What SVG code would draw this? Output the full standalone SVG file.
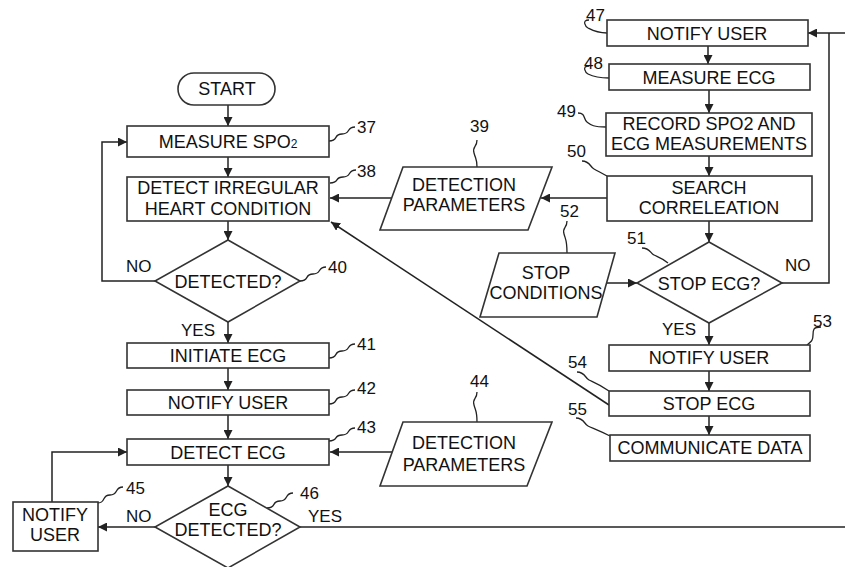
<svg xmlns="http://www.w3.org/2000/svg" width="845" height="567" viewBox="0 0 845 567">
<defs>
<marker id="ah" viewBox="0 0 10 10" refX="10" refY="5" markerWidth="9" markerHeight="9" markerUnits="userSpaceOnUse" orient="auto">
<path d="M0,0 L10,5 L0,10 z" fill="#222"/>
</marker>
<style>
.box{fill:#fff;stroke:#333;stroke-width:1.6}
.t{font-family:"Liberation Sans",Arial,sans-serif;font-size:18px;fill:#111;text-anchor:middle}
.n{font-family:"Liberation Sans",Arial,sans-serif;font-size:17px;fill:#111}
.c{fill:none;stroke:#222;stroke-width:1.5}
.sq{fill:none;stroke:#222;stroke-width:1.3}
</style>
</defs>
<rect width="845" height="567" fill="#fff"/>

<g id="connectors">
<path class="c" d="M228,105 V126" marker-end="url(#ah)"/>
<path class="c" d="M228,157 V177" marker-end="url(#ah)"/>
<path class="c" d="M228,221 V240" marker-end="url(#ah)"/>
<path class="c" d="M155,281 H102 V142 H127" marker-end="url(#ah)"/>
<path class="c" d="M228,322 V343" marker-end="url(#ah)"/>
<path class="c" d="M228,368 V390" marker-end="url(#ah)"/>
<path class="c" d="M228,415 V439" marker-end="url(#ah)"/>
<path class="c" d="M228,465 V486" marker-end="url(#ah)"/>
<path class="c" d="M155,527 H98" marker-end="url(#ah)"/>
<path class="c" d="M52,502 V452 H127" marker-end="url(#ah)"/>
<path class="c" d="M300,527 H845"/>
<path class="c" d="M607,198 H541" marker-end="url(#ah)"/>
<path class="c" d="M392,198 H330" marker-end="url(#ah)"/>
<path class="c" d="M392,452 H330" marker-end="url(#ah)"/>
<path class="c" d="M609,405 L331,222" marker-end="url(#ah)"/>
<path class="c" d="M708,46 V64" marker-end="url(#ah)"/>
<path class="c" d="M709,90 V113" marker-end="url(#ah)"/>
<path class="c" d="M709,156 V176" marker-end="url(#ah)"/>
<path class="c" d="M709,221 V242" marker-end="url(#ah)"/>
<path class="c" d="M607,283 H637" marker-end="url(#ah)"/>
<path class="c" d="M782,283 H829 V33"/>
<path class="c" d="M845,33 H808" marker-end="url(#ah)"/>
<path class="c" d="M709,323 V345" marker-end="url(#ah)"/>
<path class="c" d="M709,371 V391" marker-end="url(#ah)"/>
<path class="c" d="M709,416 V435" marker-end="url(#ah)"/>
</g>

<g id="leaders">
<path class="sq" d="M329,141 c10,0 4,-7 13,-7 s4,-7 13,-7"/>
<path class="sq" d="M330,183 c10,0 4,-6 13,-6 s4,-7 13,-7"/>
<path class="sq" d="M300,281 c10,0 4,-7 13,-7 s4,-7 13,-7"/>
<path class="sq" d="M329,358 c10,0 4,-7 13,-7 s4,-7 13,-7"/>
<path class="sq" d="M329,404 c10,0 4,-7 13,-7 s4,-7 13,-7"/>
<path class="sq" d="M329,441 c10,0 4,-6 13,-6 s4,-7 13,-7"/>
<path class="sq" d="M97,503 c10,0 4,-8 13,-8 s4,-8 13,-8"/>
<path class="sq" d="M267,508 c10,0 4,-7 13,-7 s4,-8 13,-8"/>
<path class="sq" d="M477,140 c0,8 -5,6 -3,13 s3,6 3,14"/>
<path class="sq" d="M567,221 c0,8 -5,6 -3,13 s3,6 3,19"/>
<path class="sq" d="M477,392 c0,8 -5,6 -3,13 s3,6 3,17"/>
<path class="sq" d="M589,20 c-8,0 -3,7 -1,8 s8,5 19,5"/>
<path class="sq" d="M589,66 c-8,0 -3,7 -1,8 s8,4 21,4"/>
<path class="sq" d="M578,113 c8,0 5,6 9,9 s6,5 19,5"/>
<path class="sq" d="M582,161 c8,0 8,6 12,8 s7,4 13,7"/>
<path class="sq" d="M642,248 c8,0 8,5 12,7 s8,3 14,8"/>
<path class="sq" d="M821,327 c-8,0 -8,3 -8,8 s-1,6 -6,10"/>
<path class="sq" d="M577,372 c8,0 8,6 12,8 s10,4 20,11"/>
<path class="sq" d="M576,418 c8,0 8,6 12,8 s10,4 22,10"/>
</g>

<g id="start"><rect class="box" x="178" y="73" width="97" height="32" rx="16"/><text class="t" x="227" y="95">START</text></g>
<g id="n37"><rect class="box" x="127" y="126" width="202" height="31"/><text class="t" x="228" y="148">MEASURE SPO<tspan font-size="12">2</tspan></text></g>
<g id="n38"><rect class="box" x="127" y="177" width="202" height="44"/><text class="t" x="228" y="194">DETECT IRREGULAR</text><text class="t" x="228" y="215">HEART CONDITION</text></g>
<g id="n40"><polygon class="box" points="228,240 300,281 228,322 155,281"/><text class="t" x="228" y="288">DETECTED?</text></g>
<g id="n41"><rect class="box" x="127" y="343" width="202" height="25"/><text class="t" x="228" y="362">INITIATE ECG</text></g>
<g id="n42"><rect class="box" x="127" y="390" width="202" height="25"/><text class="t" x="228" y="409">NOTIFY USER</text></g>
<g id="n43"><rect class="box" x="127" y="439" width="202" height="26"/><text class="t" x="228" y="459">DETECT ECG</text></g>
<g id="n46"><polygon class="box" points="228,486 300,527 228,568 155,527"/><text class="t" x="228" y="516">ECG</text><text class="t" x="228" y="536">DETECTED?</text></g>
<g id="n45"><rect class="box" x="13" y="502" width="85" height="49"/><text class="t" x="55" y="521">NOTIFY</text><text class="t" x="55" y="541">USER</text></g>
<g id="n39"><polygon class="box" points="403,167 552,167 528,230 380,230"/><text class="t" x="464" y="191">DETECTION</text><text class="t" x="464" y="211">PARAMETERS</text></g>
<g id="n44"><polygon class="box" points="403,422 552,422 527,486 380,486"/><text class="t" x="464" y="449">DETECTION</text><text class="t" x="464" y="471">PARAMETERS</text></g>
<g id="n52"><polygon class="box" points="499,253 615,253 597,317 480,317"/><text class="t" x="546" y="279">STOP</text><text class="t" x="546" y="299">CONDITIONS</text></g>
<g id="n47"><rect class="box" x="607" y="20" width="201" height="26"/><text class="t" x="707" y="40">NOTIFY USER</text></g>
<g id="n48"><rect class="box" x="609" y="64" width="201" height="26"/><text class="t" x="709" y="84">MEASURE ECG</text></g>
<g id="n49"><rect class="box" x="606" y="113" width="206" height="43"/><text class="t" x="709" y="130">RECORD SPO2 AND</text><text class="t" x="709" y="150">ECG MEASUREMENTS</text></g>
<g id="n50"><rect class="box" x="607" y="176" width="205" height="45"/><text class="t" x="709" y="194">SEARCH</text><text class="t" x="709" y="214">CORRELEATION</text></g>
<g id="n51"><polygon class="box" points="709,242 782,283 709,323 637,283"/><text class="t" x="709" y="290">STOP ECG?</text></g>
<g id="n53"><rect class="box" x="609" y="345" width="201" height="26"/><text class="t" x="709" y="364">NOTIFY USER</text></g>
<g id="n54"><rect class="box" x="609" y="391" width="201" height="25"/><text class="t" x="709" y="410">STOP ECG</text></g>
<g id="n55"><rect class="box" x="610" y="435" width="200" height="26"/><text class="t" x="710" y="454">COMMUNICATE DATA</text></g>

<g id="labels">
<text class="n" x="357" y="133">37</text>
<text class="n" x="357" y="177">38</text>
<text class="n" x="328" y="273">40</text>
<text class="n" x="357" y="350">41</text>
<text class="n" x="357" y="394">42</text>
<text class="n" x="357" y="433">43</text>
<text class="n" x="126" y="494">45</text>
<text class="n" x="300" y="499">46</text>
<text class="n" x="470" y="132">39</text>
<text class="n" x="470" y="387">44</text>
<text class="n" x="560" y="217">52</text>
<text class="n" x="586" y="21">47</text>
<text class="n" x="584" y="69">48</text>
<text class="n" x="557" y="117">49</text>
<text class="n" x="567" y="157">50</text>
<text class="n" x="627" y="244">51</text>
<text class="n" x="813" y="327">53</text>
<text class="n" x="568" y="368">54</text>
<text class="n" x="568" y="415">55</text>
<text class="n" x="126" y="272">NO</text>
<text class="n" x="181" y="336">YES</text>
<text class="n" x="126" y="522">NO</text>
<text class="n" x="308" y="522">YES</text>
<text class="n" x="785" y="271">NO</text>
<text class="n" x="662" y="335">YES</text>
</g>
</svg>
